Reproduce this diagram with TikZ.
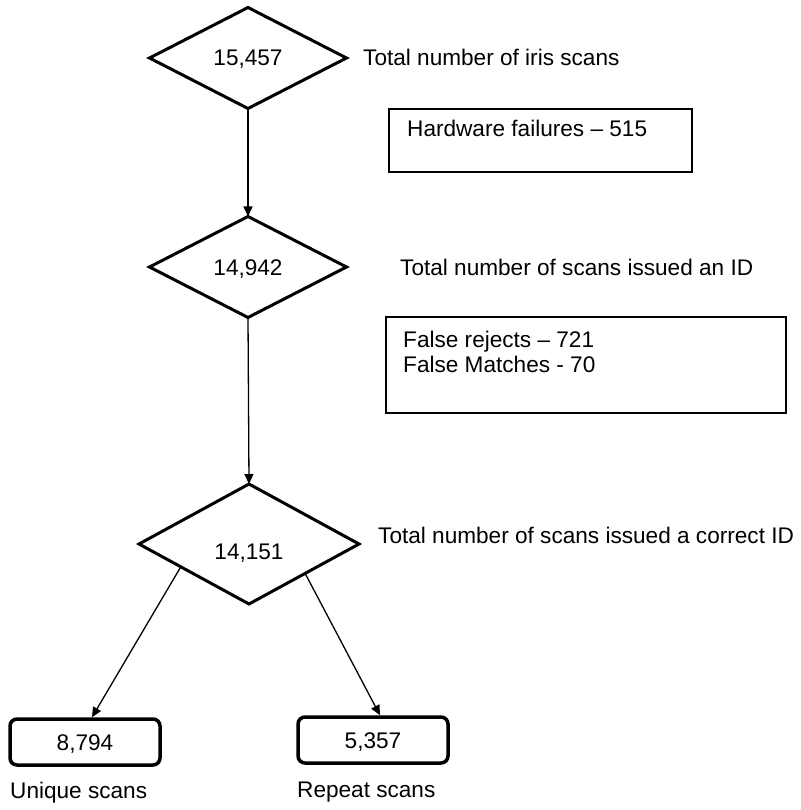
\documentclass[tikz,border=0pt]{standalone}
\usepackage{fontspec}
\setmainfont{Liberation Sans}
\usetikzlibrary{shapes.geometric,arrows.meta,calc}
\begin{document}
\begin{tikzpicture}[x=1pt,y=-1pt,
  font=\fontsize{22.6}{25}\selectfont,
  dia/.style={draw, diamond, line width=3pt, inner sep=0pt, outer sep=0pt, minimum width=197pt, minimum height=101pt, aspect=1.95, text height=16pt, text depth=0pt},
  thinbox/.style={draw, rectangle, line width=1.6pt, inner sep=0pt},
  numbox/.style={draw, rectangle, rounded corners=7pt, line width=3.5pt, minimum width=150pt, minimum height=46pt, inner sep=0pt, text height=16pt, text depth=0pt},
  txt/.style={anchor=base west, inner sep=0pt},
  arr/.style={-{Triangle[length=10pt,width=9pt]}, line width=1.3pt}]
\useasboundingbox (0,0) rectangle (800,810);

\node[dia] (d1) at (248,58) {15,457};
\node[dia] (d2) at (248,267) {14,942};
\node[dia, minimum width=220pt, minimum height=120pt, text height=30pt] (d3) at (249,544) {14,151};

\node[txt] (t1) at (363,66) {Total number of iris scans};
\node[txt] (t2) at (400,275) {Total number of scans issued an ID};
\node[txt] (t3) at (378,543) {Total number of scans issued a correct ID};

\node[thinbox, minimum width=303pt, minimum height=63pt] (b1) at (540.5,140.5) {};
\node[txt] (b1t) at (407,137) {Hardware failures – 515};

\node[thinbox, minimum width=400pt, minimum height=96pt] (b2) at (586,365) {};
\node[txt] (b2a) at (403,347) {False rejects – 721};
\node[txt] (b2b) at (403,372) {False Matches - 70};

\node[numbox] (u) at (85,742) {8,794};
\node[numbox] (r) at (373,740) {5,357};
\node[txt] (ul) at (10,798) {Unique scans};
\node[txt] (rl) at (297,797) {Repeat scans};

\draw[arr] (d1.south) -- (d2.north);
\draw[arr] (d2.south) -- (d3.north);
\draw[arr] ($(d3.west)!0.38!(d3.south)$) -- ([xshift=7pt]u.north);
\draw[arr] ($(d3.east)!0.49!(d3.south)$) -- ([xshift=7pt]r.north);
\end{tikzpicture}
\end{document}
